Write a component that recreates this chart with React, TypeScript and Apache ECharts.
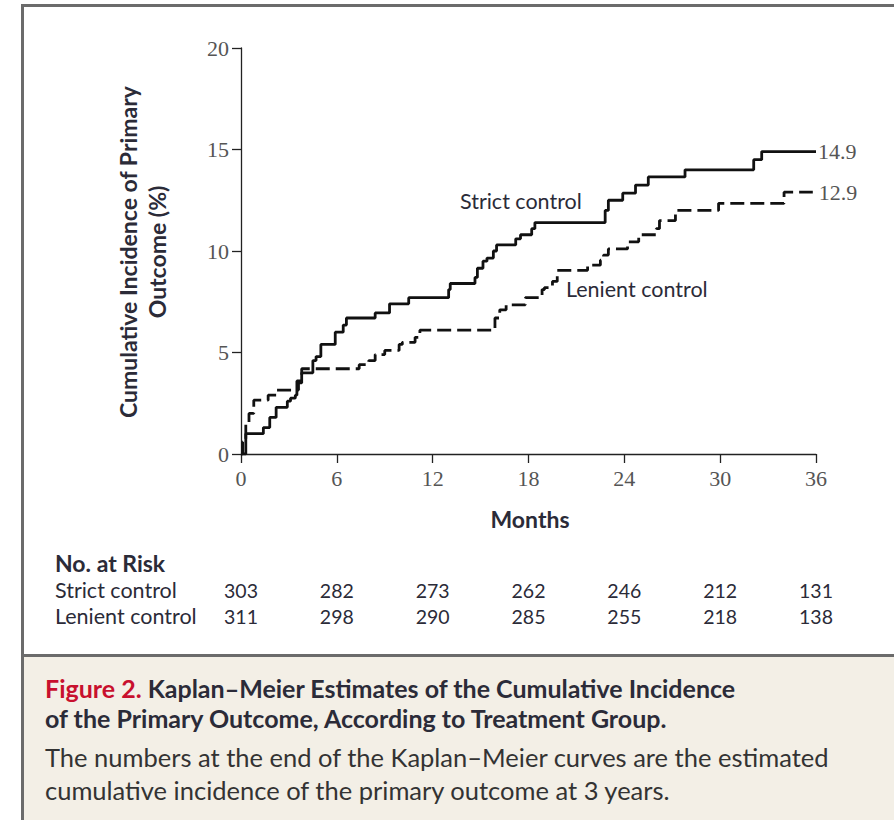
import React, { useEffect, useRef } from "react";
import * as echarts from "echarts";

// Kaplan–Meier step points: month of each event and cumulative incidence (%) after it
const strictMonths = [0, 0.3, 1.4, 1.8, 2.2, 2.9, 3.1, 3.4, 3.5, 3.8, 4.5, 4.7, 5.0, 5.9, 6.4, 6.6, 8.4, 9.3, 10.5, 13.0, 13.1, 14.65, 14.8, 15.15, 15.4, 15.8, 16.0, 17.2, 17.5, 18.2, 18.4, 22.8, 23.0, 23.9, 24.7, 25.5, 27.8, 32.1, 32.6, 36];
const strictIncidence = [0, 1.0, 1.3, 1.8, 2.3, 2.6, 2.75, 2.9, 3.6, 4.0, 4.6, 4.8, 5.4, 6.0, 6.35, 6.7, 6.95, 7.4, 7.7, 8.1, 8.4, 8.7, 9.15, 9.5, 9.65, 10.0, 10.3, 10.6, 10.8, 11.1, 11.4, 12.0, 12.5, 12.85, 13.25, 13.65, 14.0, 14.5, 14.9, 14.9];

const lenientMonths = [0, 0.1, 0.3, 0.5, 0.8, 1.7, 2.2, 3.6, 3.8, 7.4, 8.0, 8.4, 9.0, 9.9, 10.1, 10.9, 11.2, 15.9, 16.2, 16.6, 17.8, 18.85, 19.0, 19.5, 19.8, 21.7, 22.5, 22.7, 23.0, 24.2, 24.9, 26.0, 26.2, 27.2, 29.9, 34.0, 35.8];
const lenientIncidence = [0, 0.6, 1.5, 2.0, 2.65, 2.9, 3.15, 3.5, 4.2, 4.4, 4.6, 4.9, 5.1, 5.4, 5.5, 5.75, 6.1, 6.7, 7.1, 7.35, 7.7, 8.1, 8.2, 8.5, 9.05, 9.3, 9.55, 9.8, 10.1, 10.45, 10.8, 11.1, 11.5, 12.0, 12.35, 12.9, 12.9];

// Number-at-risk table
const riskMonths = [0, 6, 12, 18, 24, 30, 36];
const strictAtRisk = [303, 282, 273, 262, 246, 212, 131];
const lenientAtRisk = [311, 298, 290, 285, 255, 218, 138];
const groupNames = ["Strict control", "Lenient control"];

const SANS = "Lato, 'Open Sans', sans-serif";
const SERIF = "'Liberation Serif', 'DejaVu Serif', serif";
const INK = "#2b2b38";
const TICK_INK = "#555";
const FRAME = "#6b6b6b";

export default function App() {
  const ref = useRef<HTMLDivElement>(null);

  useEffect(() => {
    const chart = echarts.init(ref.current!, undefined, { renderer: "svg" });
    const pairs = (ts: number[], vs: number[]) => ts.map((t, i) => [t, vs[i]]);
    const axisLine = { show: true, onZero: false, lineStyle: { color: "#222", width: 1.3 } };
    const axisTick = { show: true, length: 9, inside: false, lineStyle: { color: "#222", width: 1.3 } };
    const endLabel = (distance: number) => ({
      show: true,
      distance,
      formatter: (p: any) => p.value[1].toFixed(1),
      fontFamily: SERIF,
      fontSize: 22,
      color: TICK_INK,
    });

    chart.setOption({
      animation: false,
      backgroundColor: "#ffffff",
      grid: { left: 241, top: 48, width: 575, height: 406, outerBoundsMode: "none" },
      xAxis: {
        type: "value",
        min: 0,
        max: 36,
        interval: 6,
        axisLine,
        axisTick,
        splitLine: { show: false },
        axisLabel: { margin: 13, fontFamily: SERIF, fontSize: 22, color: TICK_INK },
      },
      yAxis: {
        type: "value",
        min: 0,
        max: 20,
        interval: 5,
        axisLine,
        axisTick,
        splitLine: { show: false },
        axisLabel: { margin: 12, fontFamily: SERIF, fontSize: 22, color: TICK_INK },
      },
      series: [
        {
          name: groupNames[0],
          type: "line",
          step: "end",
          symbol: "none",
          silent: true,
          data: pairs(strictMonths, strictIncidence),
          lineStyle: { color: "#111", width: 2.8 },
          endLabel: endLabel(2),
        },
        {
          name: groupNames[1],
          type: "line",
          step: "end",
          symbol: "none",
          silent: true,
          data: pairs(lenientMonths, lenientIncidence),
          lineStyle: { color: "#111", width: 2.8, type: [14, 6] },
          endLabel: endLabel(6),
        },
      ],
    });

    const sans = (size: number, weight: any = "normal") => ({
      fontFamily: SANS,
      fontSize: size,
      fontWeight: weight,
      fill: INK,
    });

    const graphics: any[] = [
      // page frame and caption panel
      { type: "rect", shape: { x: 24, y: 657, width: 870, height: 163 }, style: { fill: "#f3efe6" }, z: -10 },
      { type: "rect", shape: { x: 21, y: 4, width: 873, height: 3 }, style: { fill: FRAME } },
      { type: "rect", shape: { x: 21, y: 4, width: 3, height: 816 }, style: { fill: FRAME } },
      { type: "rect", shape: { x: 21, y: 654, width: 873, height: 3 }, style: { fill: FRAME } },
      // axis titles
      {
        type: "text",
        x: 142,
        y: 252,
        rotation: Math.PI / 2,
        style: {
          text: "Cumulative Incidence of Primary\nOutcome (%)",
          ...sans(23, "bold"),
          align: "center",
          verticalAlign: "middle",
          lineHeight: 29,
        },
      },
      {
        type: "text",
        x: 530,
        y: 519,
        style: { text: "Months", ...sans(23, "bold"), align: "center", verticalAlign: "middle" },
      },
      // curve annotations
      { type: "text", x: 460, y: 201, style: { text: groupNames[0], ...sans(21.5), verticalAlign: "middle" } },
      { type: "text", x: 566, y: 289, style: { text: groupNames[1], ...sans(21.5), verticalAlign: "middle" } },
      // number at risk
      { type: "text", x: 55, y: 563, style: { text: "No. at Risk", ...sans(23, "bold"), verticalAlign: "middle" } },
      { type: "text", x: 55, y: 590, style: { text: groupNames[0], ...sans(21.5), verticalAlign: "middle" } },
      { type: "text", x: 55, y: 616, style: { text: groupNames[1], ...sans(21.5), verticalAlign: "middle" } },
      // caption
      {
        type: "text",
        x: 45,
        y: 688,
        style: {
          text: "{fig|Figure 2.} Kaplan–Meier Estimates of the Cumulative Incidence",
          ...sans(25, "bold"),
          verticalAlign: "middle",
          rich: { fig: { fill: "#c8102e", fontFamily: SANS, fontSize: 25, fontWeight: "bold" } },
        },
      },
      {
        type: "text",
        x: 45,
        y: 718,
        style: { text: "of the Primary Outcome, According to Treatment Group.", ...sans(25, "bold"), verticalAlign: "middle" },
      },
      {
        type: "text",
        x: 45,
        y: 757,
        style: { text: "The numbers at the end of the Kaplan–Meier curves are the estimated", ...sans(25.5), fill: "#333", verticalAlign: "middle" },
      },
      {
        type: "text",
        x: 45,
        y: 790,
        style: { text: "cumulative incidence of the primary outcome at 3 years.", ...sans(25.5), fill: "#333", verticalAlign: "middle" },
      },
    ];

    riskMonths.forEach((m, i) => {
      const x = chart.convertToPixel({ xAxisIndex: 0 }, m) as number;
      graphics.push(
        { type: "text", x, y: 590, style: { text: String(strictAtRisk[i]), ...sans(19.5), align: "center", verticalAlign: "middle" } },
        { type: "text", x, y: 616, style: { text: String(lenientAtRisk[i]), ...sans(19.5), align: "center", verticalAlign: "middle" } }
      );
    });

    chart.setOption({ graphic: graphics });

    return () => chart.dispose();
  }, []);

  return <div ref={ref} style={{ position: "absolute", left: 0, top: 0, width: 894, height: 820 }} />;
}
